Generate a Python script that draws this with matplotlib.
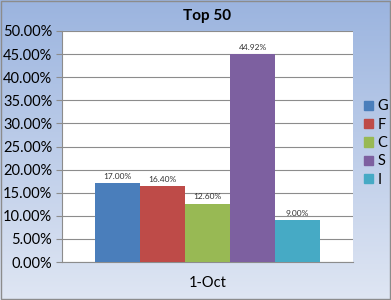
import matplotlib
matplotlib.use("Agg")
import matplotlib.pyplot as plt
import numpy as np
from matplotlib.colors import LinearSegmentedColormap
from matplotlib.patches import Rectangle

categories = ["G", "F", "C", "S", "I"]
values = [17.00, 16.40, 12.60, 44.92, 9.00]
colors = ["#4a7ebb", "#be4b48", "#98b954", "#7d60a0", "#46aac5"]
x_label = "1-Oct"
title = "Top 50"

plt.rcParams['font.family'] = ['Lato', 'DejaVu Sans']

fig = plt.figure(figsize=(3.91, 3.0), dpi=100)

# gradient background
bg = fig.add_axes([0, 0, 1, 1], zorder=-10)
cmap = LinearSegmentedColormap.from_list("g", ["#dfe6f3", "#9bb4df"])
grad = np.linspace(0, 1, 256).reshape(-1, 1)
bg.imshow(grad, aspect="auto", cmap=cmap, origin="lower", extent=[0, 1, 0, 1])
bg.add_patch(Rectangle((0.002, 0.003), 0.995, 0.993, fill=False, edgecolor="#8c8c8c", lw=1))
bg.set_xlim(0, 1); bg.set_ylim(0, 1)
bg.axis("off")

ax = fig.add_axes([62/391, 38/300, 291/391, 231/300])
ax.set_facecolor("white")
x = np.arange(len(categories))
bars = ax.bar(x, values, width=1.0, color=colors, label=categories, zorder=3)
for xi, v in zip(x, values):
    ax.text(xi, v + 0.8, f"{v:.2f}%", ha="center", va="bottom", fontsize=6, color="#333333", zorder=4)

ax.set_ylim(0, 50)
ax.set_xlim(-1.23, 5.23)
ax.set_yticks(np.arange(0, 51, 5))
ax.set_yticklabels([f"{t:.2f}%" for t in np.arange(0, 51, 5)], fontsize=10.5)
ax.yaxis.grid(True, color="#8c8c8c", lw=0.8, zorder=0)
ax.set_xticks([2])
ax.set_xticklabels([x_label], fontsize=10.5)
ax.tick_params(axis="x", length=0, pad=10)
ax.tick_params(axis="y", length=4, color="#8c8c8c", pad=3)
for s in ["top", "right"]:
    ax.spines[s].set_visible(False)
ax.spines["left"].set_color("#8c8c8c")
ax.spines["bottom"].set_color("#8c8c8c")

fig.text(207/391, 1 - 16/300, title, ha="center", va="center", fontsize=11, fontweight="bold")

handles = [Rectangle((0, 0), 1, 1, color=c) for c in colors]
fig.legend(handles, categories, loc="upper left", bbox_to_anchor=(357/391, 1 - 92/300),
           frameon=False, fontsize=10.5, handlelength=0.6, handleheight=0.6,
           handletextpad=0.3, labelspacing=0.3, borderpad=0)

fig.savefig("out.png", dpi=100)
